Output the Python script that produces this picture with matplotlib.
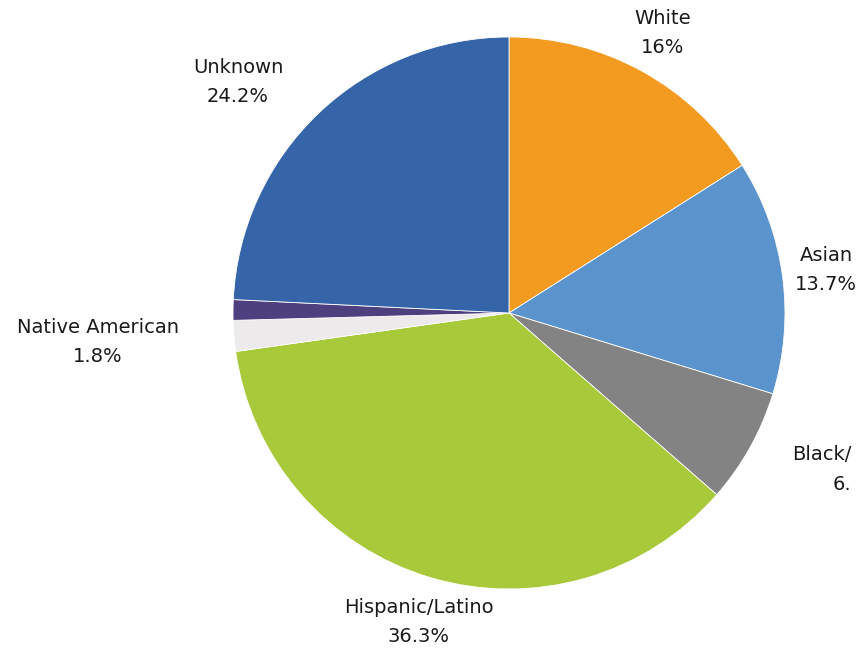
import numpy as np
import matplotlib
matplotlib.use('Agg')
import matplotlib.pyplot as plt

groups = ['White', 'Asian', 'Black/', 'Hispanic/Latino', 'Native American', 'Other', 'Unknown']
shares = [16.0, 13.7, 6.7, 36.3, 1.8, 1.2, 24.2]
shown = ['16%', '13.7%', '6.', '36.3%', '1.8%', '', '24.2%']
colors = ['#F39A21', '#5B93CC', '#838383', '#A8C939', '#ECEAEB', '#4E3F7E', '#3565A8']

plt.rcParams['font.family'] = ['DejaVu Sans']

W, H = 858, 650
cx, cy, r = 509, 313, 276  # pie centre and radius in pixels

fig = plt.figure(figsize=(W / 100, H / 100), dpi=100)
ax = fig.add_axes([0, 0, 1, 1])
ax.pie(shares, colors=colors, startangle=90, counterclock=False,
       wedgeprops=dict(edgecolor='white', linewidth=0.6))
ax.set_xlim(-cx / r, (W - cx) / r)
ax.set_ylim(-(H - cy) / r, cy / r)
ax.set_aspect('auto')
ax.axis('off')


def px(x, y):
    # pixel position (from top-left) to data coords
    return (x - cx) / r, (cy - y) / r


fs = 14
# label block centres in pixels
label_pos = {'White': (663, 33), 'Asian': (826, 270), 'Hispanic/Latino': (419, 622),
             'Native American': (98, 342), 'Unknown': (238, 82)}
for g, s in zip(groups, shown):
    if g in label_pos:
        x, y = px(*label_pos[g])
        ax.text(x, y, g + '\n' + s, ha='center', va='center', fontsize=fs,
                color='#1a1a1a', linespacing=1.7)

# Black label is cut off at the right edge in the original
x, y = px(792, 455)
ax.text(x, y, groups[2], ha='left', va='center', fontsize=fs, color='#1a1a1a')
x, y = px(833, 485)
ax.text(x, y, shown[2], ha='left', va='center', fontsize=fs, color='#1a1a1a')

fig.savefig('out.png', dpi=100)
